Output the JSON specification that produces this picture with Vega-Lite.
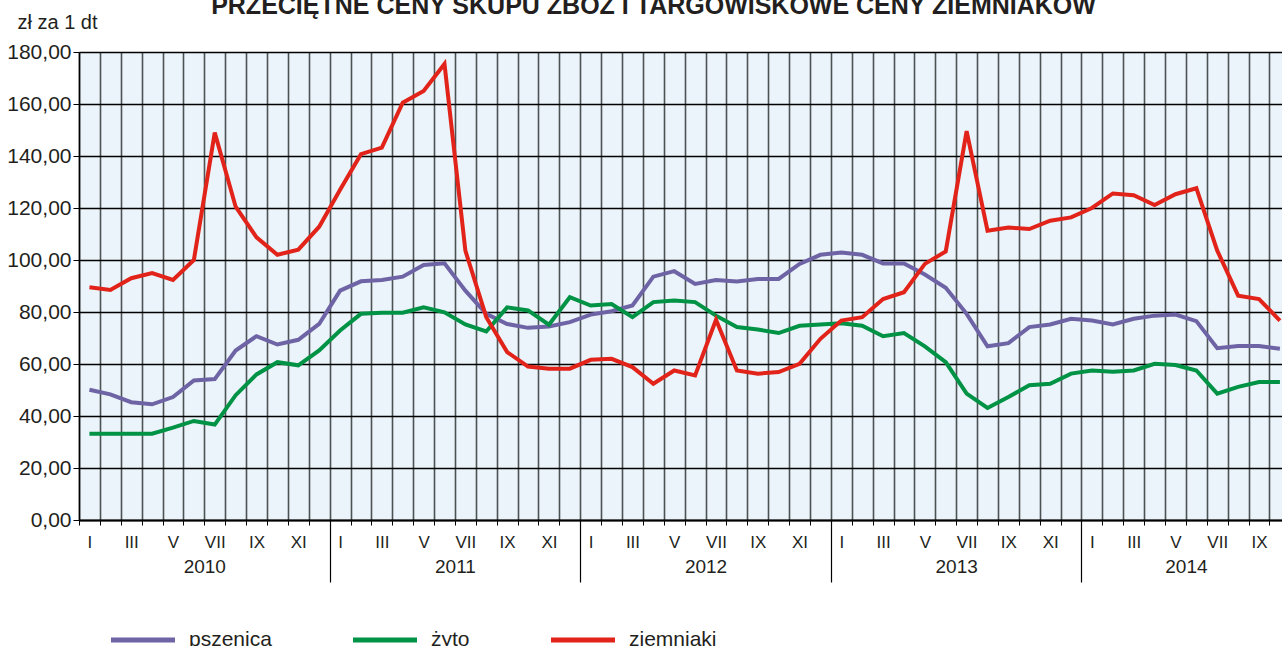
{
  "$schema": "https://vega.github.io/schema/vega-lite/v6.json",
  "width": 1203,
  "height": 468,
  "autosize": {"type": "none"},
  "padding": {"left": 79, "top": 52, "right": 0, "bottom": 126},
  "background": "white",
  "config": {
    "view": {"fill": "#EAF4FA", "stroke": null},
    "font": "Liberation Sans",
    "text": {"font": "Liberation Sans"}
  },
  "title": {
    "text": "PRZECIĘTNE CENY SKUPU ZBÓŻ I TARGOWISKOWE CENY ZIEMNIAKÓW",
    "fontSize": 25,
    "fontWeight": "bold",
    "font": "Liberation Sans",
    "color": "#231f20",
    "frame": "group",
    "anchor": "middle",
    "offset": -7,
    "dx": -27
  },
  "data": {
    "values": [
      {"m": 1, "pszenica": 50.1, "żyto": 33.2, "ziemniaki": 89.5},
      {"m": 2, "pszenica": 48.3, "żyto": 33.2, "ziemniaki": 88.5},
      {"m": 3, "pszenica": 45.3, "żyto": 33.2, "ziemniaki": 93.0},
      {"m": 4, "pszenica": 44.5, "żyto": 33.2, "ziemniaki": 95.0},
      {"m": 5, "pszenica": 47.3, "żyto": 35.5, "ziemniaki": 92.3},
      {"m": 6, "pszenica": 53.7, "żyto": 38.1, "ziemniaki": 100.0},
      {"m": 7, "pszenica": 54.2, "żyto": 36.7, "ziemniaki": 149.0},
      {"m": 8, "pszenica": 65.2, "żyto": 48.0, "ziemniaki": 120.5},
      {"m": 9, "pszenica": 70.7, "żyto": 56.0, "ziemniaki": 108.7},
      {"m": 10, "pszenica": 67.5, "żyto": 60.7, "ziemniaki": 102.0},
      {"m": 11, "pszenica": 69.3, "żyto": 59.5, "ziemniaki": 104.0},
      {"m": 12, "pszenica": 75.4, "żyto": 65.2, "ziemniaki": 112.8},
      {"m": 13, "pszenica": 88.2, "żyto": 72.9, "ziemniaki": 127.0},
      {"m": 14, "pszenica": 91.8, "żyto": 79.3, "ziemniaki": 140.7},
      {"m": 15, "pszenica": 92.3, "żyto": 79.7, "ziemniaki": 143.2},
      {"m": 16, "pszenica": 93.6, "żyto": 79.7, "ziemniaki": 160.5},
      {"m": 17, "pszenica": 98.1, "żyto": 81.8, "ziemniaki": 165.0},
      {"m": 18, "pszenica": 98.7, "żyto": 79.9, "ziemniaki": 175.4},
      {"m": 19, "pszenica": 88.2, "żyto": 75.2, "ziemniaki": 103.6},
      {"m": 20, "pszenica": 79.3, "żyto": 72.5, "ziemniaki": 78.0},
      {"m": 21, "pszenica": 75.4, "żyto": 81.8, "ziemniaki": 64.6},
      {"m": 22, "pszenica": 73.9, "żyto": 80.6, "ziemniaki": 59.0},
      {"m": 23, "pszenica": 74.4, "żyto": 75.1, "ziemniaki": 58.2},
      {"m": 24, "pszenica": 76.1, "żyto": 85.7, "ziemniaki": 58.2},
      {"m": 25, "pszenica": 79.0, "żyto": 82.5, "ziemniaki": 61.6},
      {"m": 26, "pszenica": 80.3, "żyto": 83.1, "ziemniaki": 62.0},
      {"m": 27, "pszenica": 82.5, "żyto": 78.0, "ziemniaki": 58.8},
      {"m": 28, "pszenica": 93.6, "żyto": 83.8, "ziemniaki": 52.4},
      {"m": 29, "pszenica": 95.7, "żyto": 84.4, "ziemniaki": 57.5},
      {"m": 30, "pszenica": 90.8, "żyto": 83.8, "ziemniaki": 55.6},
      {"m": 31, "pszenica": 92.3, "żyto": 78.6, "ziemniaki": 77.0},
      {"m": 32, "pszenica": 91.7, "żyto": 74.2, "ziemniaki": 57.5},
      {"m": 33, "pszenica": 92.7, "żyto": 73.3, "ziemniaki": 56.3},
      {"m": 34, "pszenica": 92.7, "żyto": 71.9, "ziemniaki": 56.9},
      {"m": 35, "pszenica": 98.5, "żyto": 74.7, "ziemniaki": 60.1},
      {"m": 36, "pszenica": 102.0, "żyto": 75.2, "ziemniaki": 69.7},
      {"m": 37, "pszenica": 102.9, "żyto": 75.7, "ziemniaki": 76.7},
      {"m": 38, "pszenica": 102.0, "żyto": 74.7, "ziemniaki": 78.0},
      {"m": 39, "pszenica": 98.7, "żyto": 70.7, "ziemniaki": 85.0},
      {"m": 40, "pszenica": 98.7, "żyto": 71.9, "ziemniaki": 87.6},
      {"m": 41, "pszenica": 94.4, "żyto": 66.8, "ziemniaki": 98.5},
      {"m": 42, "pszenica": 89.3, "żyto": 60.7, "ziemniaki": 103.3},
      {"m": 43, "pszenica": 79.3, "żyto": 48.6, "ziemniaki": 149.6},
      {"m": 44, "pszenica": 66.8, "żyto": 43.1, "ziemniaki": 111.3},
      {"m": 45, "pszenica": 68.0, "żyto": 47.3, "ziemniaki": 112.5},
      {"m": 46, "pszenica": 74.2, "żyto": 51.8, "ziemniaki": 111.9},
      {"m": 47, "pszenica": 75.2, "żyto": 52.4, "ziemniaki": 115.1},
      {"m": 48, "pszenica": 77.4, "żyto": 56.3, "ziemniaki": 116.4},
      {"m": 49, "pszenica": 76.7, "żyto": 57.5, "ziemniaki": 120.0},
      {"m": 50, "pszenica": 75.2, "żyto": 57.0, "ziemniaki": 125.6},
      {"m": 51, "pszenica": 77.4, "żyto": 57.5, "ziemniaki": 124.9},
      {"m": 52, "pszenica": 78.6, "żyto": 60.1, "ziemniaki": 121.1},
      {"m": 53, "pszenica": 79.0, "żyto": 59.6, "ziemniaki": 125.3},
      {"m": 54, "pszenica": 76.5, "żyto": 57.5, "ziemniaki": 127.6},
      {"m": 55, "pszenica": 66.1, "żyto": 48.6, "ziemniaki": 103.6},
      {"m": 56, "pszenica": 66.9, "żyto": 51.2, "ziemniaki": 86.3},
      {"m": 57, "pszenica": 66.9, "żyto": 53.1, "ziemniaki": 85.0},
      {"m": 58, "pszenica": 65.9, "żyto": 53.1, "ziemniaki": 76.7}
    ]
  },
  "transform": [
    {"fold": ["pszenica", "żyto", "ziemniaki"], "as": ["seria", "cena"]}
  ],
  "resolve": {"axis": {"x": "independent"}},
  "layer": [
    {
      "mark": {"type": "line", "strokeWidth": 4, "strokeJoin": "miter", "strokeCap": "butt"},
      "encoding": {
        "x": {
          "field": "m",
          "type": "quantitative",
          "scale": {"domain": [0.5, 58.1], "nice": false, "zero": false},
          "axis": {
            "orient": "bottom",
            "title": null,
            "values": [0.5,1.5,2.5,3.5,4.5,5.5,6.5,7.5,8.5,9.5,10.5,11.5,12.5,13.5,14.5,15.5,16.5,17.5,18.5,19.5,20.5,21.5,22.5,23.5,24.5,25.5,26.5,27.5,28.5,29.5,30.5,31.5,32.5,33.5,34.5,35.5,36.5,37.5,38.5,39.5,40.5,41.5,42.5,43.5,44.5,45.5,46.5,47.5,48.5,49.5,50.5,51.5,52.5,53.5,54.5,55.5,56.5,57.5],
            "grid": true,
            "gridColor": "#4d5354",
            "gridWidth": 1.6,
            "ticks": true,
            "tickSize": 5,
            "tickColor": "#000000",
            "tickWidth": 1,
            "domain": true,
            "domainColor": "#000000",
            "domainWidth": 2,
            "labelExpr": "floor(datum.value) % 2 == 0 ? ['I','II','III','IV','V','VI','VII','VIII','IX','X','XI','XII'][floor(datum.value) % 12] : ''",
            "labelOffset": 10.44,
            "labelPadding": 9,
            "labelFontSize": 17,
            "labelColor": "#231f20",
            "labelBaseline": "top",
            "labelFlush": false,
            "labelOverlap": false,
            "labelBound": false
          }
        },
        "y": {
          "field": "cena",
          "type": "quantitative",
          "scale": {"domain": [0, 180], "nice": false},
          "axis": {
            "values": [0, 20, 40, 60, 80, 100, 120, 140, 160, 180],
            "labelExpr": "replace(format(datum.value, '.2f'), '.', ',')",
            "labelFontSize": 21,
            "labelColor": "#231f20",
            "labelPadding": 2,
            "tickSize": 6,
            "tickColor": "#000000",
            "domainColor": "#000000",
            "domainWidth": 1.5,
            "grid": true,
            "gridColor": "#000000",
            "gridWidth": 1.3,
            "title": "zł za 1 dt",
            "titleAngle": 0,
            "titleAlign": "left",
            "titleBaseline": "alphabetic",
            "titleX": -62,
            "titleY": -24,
            "titleFontSize": 20,
            "titleFontWeight": "normal",
            "titleColor": "#231f20"
          }
        },
        "color": {
          "field": "seria",
          "type": "nominal",
          "scale": {"domain": ["pszenica", "żyto", "ziemniaki"], "range": ["#6E64A5", "#009245", "#E2231A"]},
          "legend": {
            "title": null,
            "orient": "none",
            "direction": "horizontal",
            "legendX": 29,
            "legendY": 553,
            "symbolType": "stroke",
            "symbolSize": 4100,
            "symbolStrokeWidth": 5,
            "labelFontSize": 21,
            "labelColor": "#231f20",
            "labelOffset": 11,
            "columnPadding": 70
          }
        }
      }
    },
    {
      "mark": {"type": "point", "opacity": 0},
      "encoding": {
        "x": {
          "field": "m",
          "type": "quantitative",
          "axis": {
            "orient": "bottom",
            "title": null,
            "values": [6.5, 18.5, 30.5, 42.5, 53.5],
            "grid": false,
            "ticks": false,
            "domain": false,
            "labelExpr": "['2010','2011','2012','2013','2014'][floor((datum.value - 0.5) / 12)]",
            "labelPadding": 37,
            "labelFontSize": 19,
            "labelColor": "#231f20",
            "labelBaseline": "top",
            "labelFlush": false,
            "labelOverlap": false
          }
        }
      }
    },
    {
      "mark": {"type": "point", "opacity": 0},
      "encoding": {
        "x": {
          "field": "m",
          "type": "quantitative",
          "axis": {
            "orient": "bottom",
            "title": null,
            "values": [12.5, 24.5, 36.5, 48.5],
            "grid": false,
            "ticks": true,
            "tickSize": 62,
            "tickColor": "#000000",
            "tickWidth": 1.2,
            "domain": false,
            "labels": false
          }
        }
      }
    }
  ]
}
